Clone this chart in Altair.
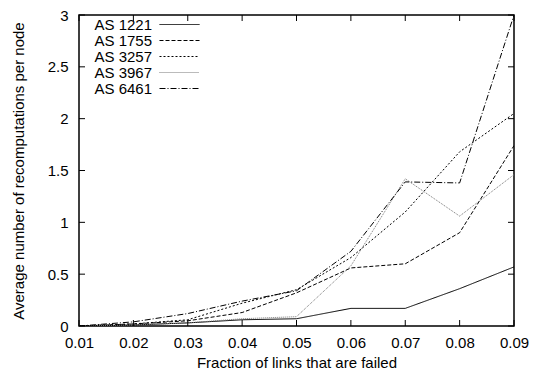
import altair as alt
import pandas as pd

x_vals = [0.01, 0.02, 0.03, 0.04, 0.05, 0.06, 0.07, 0.08, 0.09]
as1221 = [0.0, 0.01, 0.03, 0.06, 0.07, 0.17, 0.17, 0.36, 0.57]
as1755 = [0.0, 0.02, 0.05, 0.13, 0.32, 0.56, 0.60, 0.90, 1.74]
as3257 = [0.0, 0.02, 0.06, 0.22, 0.35, 0.66, 1.10, 1.68, 2.05]
as3967 = [0.0, 0.01, 0.03, 0.07, 0.09, 0.58, 1.42, 1.06, 1.46]
as6461 = [0.0, 0.04, 0.12, 0.24, 0.34, 0.72, 1.39, 1.38, 3.0]

series_names = ["AS 1221", "AS 1755", "AS 3257", "AS 3967", "AS 6461"]
series_vals = [as1221, as1755, as3257, as3967, as6461]
x_ticks = [0.01, 0.02, 0.03, 0.04, 0.05, 0.06, 0.07, 0.08, 0.09]
y_ticks = [0, 0.5, 1, 1.5, 2, 2.5, 3]

rows = []
for name, vals in zip(series_names, series_vals):
    for xv, yv in zip(x_vals, vals):
        rows.append({"x": xv, "y": yv, "series": name})
df = pd.DataFrame(rows)
xt = pd.DataFrame({"x": x_ticks})
yt = pd.DataFrame({"y": y_ticks})

W, H = 435, 311
FONT = "Liberation Sans"
FS = 15
TL = 6

xscale = alt.Scale(domain=[0.01, 0.09], nice=False, zero=False)
yscale = alt.Scale(domain=[0, 3], nice=False)

leg = dict(title=None, orient="none", legendX=93, legendY=2,
           symbolType="M-4,0H4", symbolSize=100,
           symbolStrokeWidth=1, labelFontSize=FS, labelFont=FONT,
           labelColor="black", labelAlign="right", labelOffset={"expr": "-35"},
           rowPadding=0, padding=0)

lines = alt.Chart(df).mark_line(strokeWidth=1, clip=True).encode(
    x=alt.X("x:Q", scale=xscale,
            axis=alt.Axis(values=x_ticks, labelExpr="format(datum.value, '.2f')",
                          title="Fraction of links that are failed",
                          ticks=False, tickSize=0, domain=False, grid=False,
                          labelFlush=False, labelOverlap=False,
                          labelFontSize=FS, labelFont=FONT, labelColor="black",
                          labelBaseline="alphabetic", labelPadding=21,
                          titleFontSize=FS, titleFont=FONT, titleFontWeight="normal",
                          titleColor="black", titleBaseline="alphabetic",
                          titleX=W / 2, titleY=41)),
    y=alt.Y("y:Q", scale=yscale,
            axis=alt.Axis(values=y_ticks, labelExpr="toString(datum.value)",
                          title="Average number of recomputations per node",
                          ticks=False, tickSize=0, domain=False, grid=False,
                          labelFlush=False, labelOverlap=False,
                          labelFontSize=FS, labelFont=FONT, labelColor="black",
                          labelPadding=11,
                          titleFontSize=FS, titleFont=FONT, titleFontWeight="normal",
                          titleColor="black", titleBaseline="middle",
                          titleX=-61, titleY=H / 2, titleAngle=270)),
    color=alt.Color("series:N",
                    scale=alt.Scale(domain=series_names,
                                    range=["black", "black", "black", "#777777", "black"]),
                    legend=alt.Legend(**leg)),
    strokeDash=alt.StrokeDash("series:N",
                              scale=alt.Scale(domain=series_names,
                                              range=[[1, 0], [4, 2], [2, 2], [1, 1], [6, 2, 1, 2]]),
                              legend=alt.Legend(**leg)),
)

bottom = alt.Chart(xt).mark_rule(color="black", strokeWidth=1).encode(
    x="x:Q", y=alt.value(H), y2=alt.value(H - TL))
top = alt.Chart(xt).mark_rule(color="black", strokeWidth=1).encode(
    x="x:Q", y=alt.value(0), y2=alt.value(TL))
left = alt.Chart(yt).mark_rule(color="black", strokeWidth=1).encode(
    y="y:Q", x=alt.value(0), x2=alt.value(TL))
right = alt.Chart(yt).mark_rule(color="black", strokeWidth=1).encode(
    y="y:Q", x=alt.value(W), x2=alt.value(W - TL))

chart = alt.layer(lines, bottom, top, left, right).properties(
    width=W, height=H,
    autosize=alt.AutoSizeParams(type="none"),
    padding={"left": 71, "top": 7, "right": 15, "bottom": 48},
    background="white",
).configure_view(stroke="black", strokeWidth=1.5)

chart.save("out.html", embed_options={"renderer": "svg", "actions": False})
